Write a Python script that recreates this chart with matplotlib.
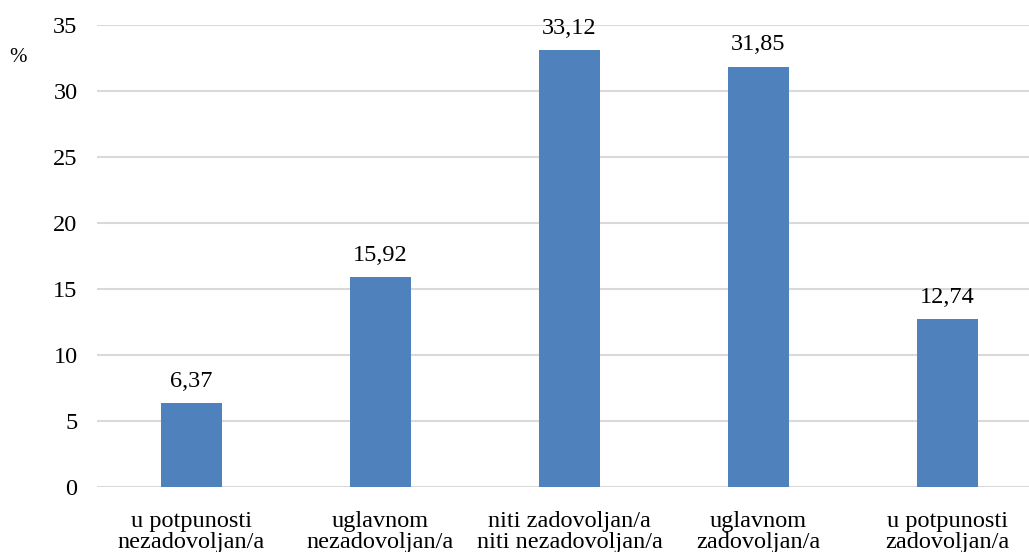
import numpy as np
import matplotlib.pyplot as plt

categories = ["u potpunosti\nnezadovoljan/a", "uglavnom\nnezadovoljan/a",
              "niti zadovoljan/a\nniti nezadovoljan/a", "uglavnom\nzadovoljan/a",
              "u potpunosti\nzadovoljan/a"]
values = [6.37, 15.92, 33.12, 31.85, 12.74]
yticks = [0, 5, 10, 15, 20, 25, 30, 35]

plt.rcParams['font.family'] = ['Liberation Serif', 'DejaVu Serif']
fs = 17.5

fig = plt.figure(figsize=(10.29, 5.52), dpi=100)
W, H = 1029, 552
ax = fig.add_axes([97 / W, 65 / H, 945 / W, 462 / H])

x = np.arange(len(values))
ax.bar(x, values, width=0.32, color='#4f81bd', zorder=3)
for xi, v in zip(x, values):
    ax.annotate(f"{v:.2f}".replace('.', ','), (xi, v), xytext=(0, 8),
                textcoords='offset points', ha='center', va='bottom', fontsize=fs)

ax.set_xlim(-0.5, 4.5)
ax.set_ylim(0, 35)
ax.set_yticks(yticks)
ax.set_xticks(x)
ax.set_xticklabels(categories, fontsize=fs, linespacing=1.05)
ax.tick_params(axis='y', labelsize=fs, length=0, pad=14)
ax.tick_params(axis='x', length=0, pad=17)
ax.grid(axis='y', color='#d9d9d9', linewidth=1.5, zorder=0)
for s in ax.spines.values():
    s.set_visible(False)

fig.text(18 / W, 1 - 58 / H, '%', fontsize=15, ha='center', va='center')

fig.savefig('out.png', dpi=100)
